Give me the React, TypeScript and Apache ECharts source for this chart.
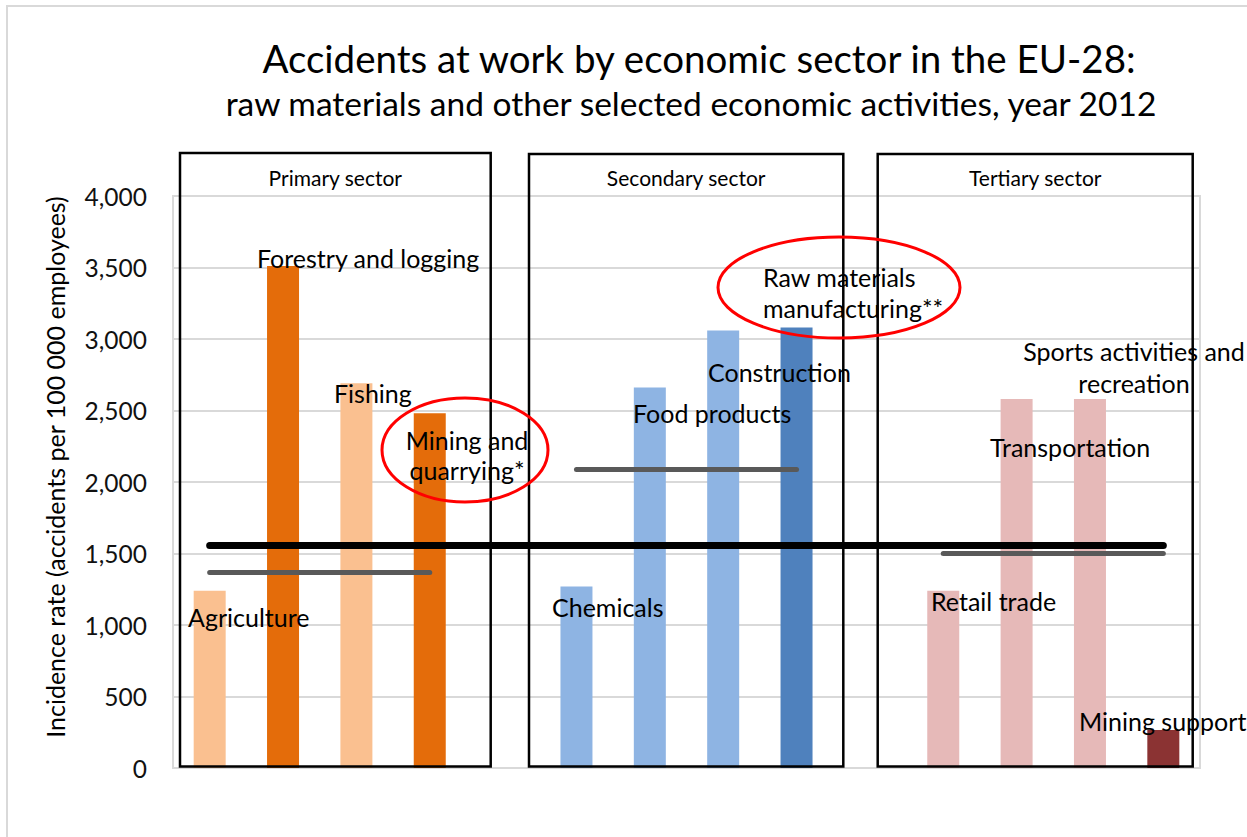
import React, { useEffect, useRef } from "react";
import * as echarts from "echarts";

const categories = [
  "Agriculture",
  "Forestry and logging",
  "Fishing",
  "Mining and quarrying*",
  "gap1",
  "Chemicals",
  "Food products",
  "Construction",
  "Raw materials manufacturing**",
  "gap2",
  "Retail trade",
  "Transportation",
  "Sports activities and recreation",
  "Mining support",
];

const incidenceRates: (number | null)[] = [
  1240, 3510, 2690, 2480, null, 1270, 2660, 3060, 3080, null, 1240, 2580, 2580, 265,
];

const barColors = [
  "#FAC090", "#E46C0A", "#FAC090", "#E46C0A", "#ffffff",
  "#8EB4E3", "#8EB4E3", "#8EB4E3", "#4F81BD", "#ffffff",
  "#E6B9B8", "#E6B9B8", "#E6B9B8", "#8B3333",
];

const averageAll = 1560;
const averagePrimary = 1370;
const averageSecondary = 2090;
const averageTertiary = 1500;

const sectorNames = ["Primary sector", "Secondary sector", "Tertiary sector"];

const titleText = "Accidents at work by economic sector in the EU-28:";
const subtitleText = "raw materials and other selected economic activities, year 2012";
const yAxisName = "Incidence rate (accidents per 100 000 employees)";

const FONT = "Lato, 'Open Sans', sans-serif";

export default function App() {
  const ref = useRef<HTMLDivElement>(null);

  useEffect(() => {
    document.body.style.margin = "0";
    if (!ref.current) return;
    const chart = echarts.init(ref.current, undefined, { renderer: "svg" });

    const txt = (text: string, x: number, y: number, size: number, align = "left", extra: any = {}) => ({
      type: "text",
      x,
      y,
      z: 100,
      ...extra,
      style: {
        text,
        fontSize: size,
        fontFamily: FONT,
        fill: "#000",
        align,
        verticalAlign: "middle",
        textAlign: align,
        textVerticalAlign: "middle",
        ...(extra.style || {}),
      },
    });

    const box = (x1: number, y1: number, x2: number, y2: number) => ({
      type: "rect",
      z: 90,
      shape: { x: x1, y: y1, width: x2 - x1, height: y2 - y1 },
      style: { fill: "none", stroke: "#000", lineWidth: 2.5 },
    });

    const labelSize = 25;

    const option: any = {
      animation: false,
      backgroundColor: "#ffffff",
      grid: {
        left: 173,
        right: 47,
        top: 196,
        bottom: 69,
        show: true,
        borderColor: "#d9d9d9",
        borderWidth: 2,
      },
      xAxis: {
        type: "category",
        data: categories,
        axisLabel: { show: false },
        axisTick: { show: false },
        axisLine: { lineStyle: { color: "#d9d9d9", width: 2 } },
      },
      yAxis: {
        type: "value",
        min: 0,
        max: 4000,
        interval: 500,
        axisLine: { show: false },
        axisTick: { show: false },
        splitLine: { lineStyle: { color: "#d9d9d9", width: 2 } },
        axisLabel: {
          margin: 26,
          fontSize: 24.5,
          fontFamily: FONT,
          color: "#111",
          formatter: (v: number) => v.toLocaleString("en-US"),
        },
      },
      series: [
        {
          type: "bar",
          barWidth: 32,
          data: incidenceRates.map((v, i) => ({
            value: v,
            itemStyle: { color: barColors[i] },
          })),
          markLine: {
            silent: true,
            symbol: ["none", "none"],
            label: { show: false },
            z: 10,
            data: [
              [
                { coord: [categories[0], averagePrimary], lineStyle: { color: "#595959", width: 5, type: "solid", cap: "round" } },
                { coord: [categories[3], averagePrimary] },
              ],
              [
                { coord: [categories[5], averageSecondary], lineStyle: { color: "#595959", width: 5, type: "solid", cap: "round" } },
                { coord: [categories[8], averageSecondary] },
              ],
              [
                { coord: [categories[10], averageTertiary], lineStyle: { color: "#595959", width: 5, type: "solid", cap: "round" } },
                { coord: [categories[13], averageTertiary] },
              ],
              [
                { coord: [categories[0], averageAll], lineStyle: { color: "#000000", width: 7, type: "solid", cap: "round" } },
                { coord: [categories[13], averageAll] },
              ],
            ],
          },
        },
      ],
      graphic: [
        {
          type: "rect",
          z: 1,
          shape: { x: 7, y: 6, width: 1400, height: 1000 },
          style: { fill: "none", stroke: "#d9d9d9", lineWidth: 2 },
        },
        txt(titleText, 699, 58, 38.5, "center"),
        txt(subtitleText, 691, 103, 33.5, "center"),
        txt(yAxisName, 55, 467, 25, "center", { rotation: Math.PI / 2 }),
        box(180, 153, 490.7, 766.5),
        box(529, 154, 843.3, 766.5),
        box(877.7, 154, 1192.7, 766.5),
        txt(sectorNames[0], 335.3, 177, 21, "center"),
        txt(sectorNames[1], 686.2, 177, 21, "center"),
        txt(sectorNames[2], 1035.2, 177, 21, "center"),
        {
          type: "ellipse",
          z: 95,
          shape: { cx: 465, cy: 450, rx: 83, ry: 52 },
          style: { fill: "none", stroke: "#FF0000", lineWidth: 3 },
        },
        {
          type: "ellipse",
          z: 95,
          shape: { cx: 839, cy: 287.5, rx: 121, ry: 50.5 },
          style: { fill: "none", stroke: "#FF0000", lineWidth: 3 },
        },
        txt(categories[0], 188, 617, labelSize),
        txt(categories[1], 257, 258, labelSize),
        txt(categories[2], 334, 393, labelSize),
        txt("Mining and\nquarrying*", 467, 455, labelSize, "center", { style: { lineHeight: 30 } }),
        txt(categories[5], 552, 607, labelSize),
        txt(categories[6], 633, 413, labelSize),
        txt(categories[7], 708, 372, labelSize),
        txt("Raw materials\nmanufacturing**", 763, 292.5, labelSize, "left", { style: { lineHeight: 31 } }),
        txt(categories[10], 931, 601, labelSize),
        txt(categories[11], 990, 447, labelSize),
        txt("Sports activities and\nrecreation", 1134, 367, labelSize, "center", { style: { lineHeight: 32 } }),
        txt(categories[13], 1079, 721, labelSize),
      ],
    };

    chart.setOption(option);
    return () => chart.dispose();
  }, []);

  return <div ref={ref} style={{ width: 1247, height: 837 }} />;
}
